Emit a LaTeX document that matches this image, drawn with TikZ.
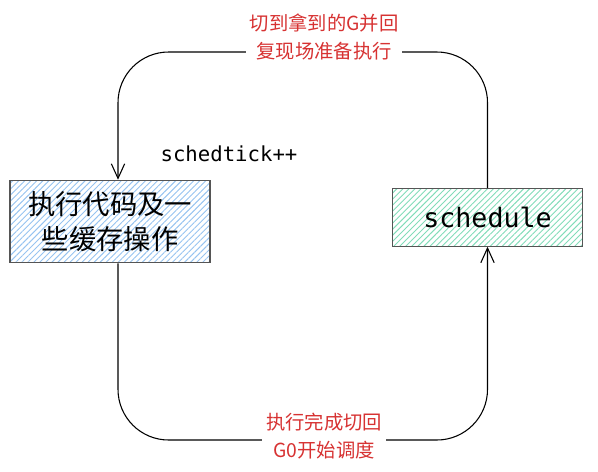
\documentclass[tikz,border=0pt]{standalone}
\usepackage{fontspec}
\usetikzlibrary{arrows.meta,patterns.meta}
\newfontfamily\cjk{Noto Sans CJK SC}
\newfontfamily\mono{DejaVu Sans Mono}
\definecolor{skizze_blau}{RGB}{150,195,240}
\definecolor{skizze_gruen}{RGB}{130,220,185}
\definecolor{skizze_rot}{RGB}{215,50,50}
\definecolor{skizze_rand}{RGB}{85,85,85}

\begin{document}
\begin{tikzpicture}[
      x=0.75pt, y=-0.75pt,
      kasten/.style={
        draw=skizze_rand,
        line width=0.9pt,
        inner sep=2pt,
        align=center
      },
      pfeil/.style={
        line width=0.8pt,
        rounded corners=38pt,
        -{Straight Barb[length=11pt,width=10pt,line width=0.8pt]}
      },
      notiz/.style={
        fill=white,
        text=skizze_rot,
        align=center,
        font=\cjk\fontsize{14.5}{21}\selectfont,
        inner sep=3pt
      }
    ]
      \useasboundingbox (0,0) rectangle (598,471);

      % Kaesten
      \node [kasten, minimum width=150pt, minimum height=62pt,
             pattern={Lines[angle=45,distance=3.2pt,line width=0.7pt]}, pattern color=skizze_blau,
             font=\cjk\fontsize{20.5}{26}\selectfont] (links) at (110,221.5) {执行代码及一\\些缓存操作};
      \node [kasten, minimum width=143pt, minimum height=43pt,
             pattern={Lines[angle=45,distance=3.2pt,line width=0.7pt]}, pattern color=skizze_gruen,
             font=\mono\fontsize{20}{24}\selectfont] (sched) at (487.5,217.5) {schedule};

      % Verbindungen
      \coordinate (oben) at (324,52);
      \coordinate (unten) at (324,440);
      \draw [pfeil] (sched.north) |- (oben) -| ([xshift=6pt]links.north);
      \draw [pfeil] ([xshift=6pt]links.south) |- (unten) -| (sched.south);

      % Beschriftungen
      \node [notiz] (text_oben) at (324,37) {切到拿到的G并回\\复现场准备执行};
      \node [notiz] (text_unten) at (324,436) {执行完成切回\\G0开始调度};
      \node [font=\mono\fontsize{15.5}{18}\selectfont] (tick) at (229,154) {schedtick++};
    \end{tikzpicture}
\end{document}
